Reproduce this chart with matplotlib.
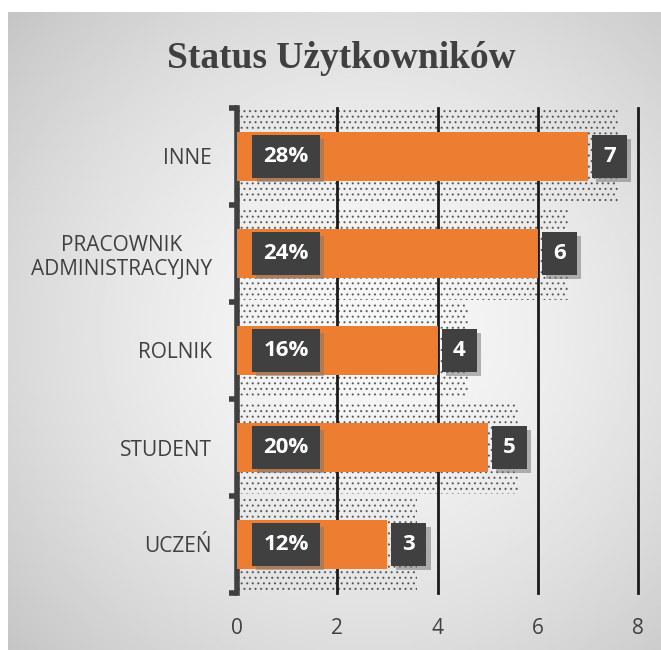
import numpy as np
import matplotlib
matplotlib.use("Agg")
import matplotlib.pyplot as plt
from matplotlib.patches import Rectangle
import matplotlib.patheffects as pe

# data (top to bottom as shown)
categories = ["INNE", "PRACOWNIK\nADMINISTRACYJNY", "ROLNIK", "STUDENT", "UCZEŃ"]
counts = [7, 6, 4, 5, 3]
percents = ["28%", "24%", "16%", "20%", "12%"]

ORANGE = "#ED7D31"
DARK = "#404040"

plt.rcParams["hatch.linewidth"] = 0.8

fig = plt.figure(figsize=(6.61, 6.5), dpi=100)
fig.patch.set_facecolor("white")

# gray radial gradient panel behind everything
bg = fig.add_axes([8 / 661, 0, 653 / 661, 638 / 650], zorder=0)
yy, xx = np.mgrid[0:1:300j, 0:1:300j]
r = np.sqrt((xx - 0.55) ** 2 + (yy - 0.5) ** 2) / 0.75
grad = 0.97 - 0.2 * r ** 1.6
bg.imshow(grad, cmap="gray", vmin=0, vmax=1, extent=[0, 1, 0, 1],
          aspect="auto", origin="lower")
bg.set_xlim(0, 1), bg.set_ylim(0, 1)
bg.axis("off")

ax = fig.add_axes([237 / 661, 1 - 593 / 650, 401 / 661, 485 / 650], zorder=1)
ax.set_facecolor("none")

y = np.arange(len(categories))
ax.set_ylim(len(categories) - 0.5, -0.5)
ax.set_xlim(0, 8)

# dotted "shadow" behind the bars
for yi, c in zip(y, counts):
    ax.add_patch(Rectangle((0, yi - 0.48), c + 0.6, 0.96, facecolor="none",
                           edgecolor="#202020", hatch="...", lw=0, alpha=0.6,
                           zorder=1))

ax.barh(y, counts, height=0.5, color=ORANGE, zorder=3)

# labels in dark boxes with a soft offset shadow
box = dict(boxstyle="square,pad=0.5", facecolor=DARK, edgecolor="none")
for yi, c, p in zip(y, counts, percents):
    for lab, xpos in ((p, 0.98), (str(c), c + 0.43)):
        t = ax.text(xpos, yi, lab, ha="center", va="center", fontsize=16,
                    fontweight="bold", family="Open Sans", color="white",
                    bbox=box, zorder=5)
        t.get_bbox_patch().set_path_effects([
            pe.SimplePatchShadow(offset=(3, -3), shadow_rgbFace="#7a7a7a", alpha=0.55),
            pe.Normal()])

ax.xaxis.grid(True, color="#1a1a1a", lw=2)
for gl in ax.get_xgridlines():
    gl.set_clip_on(False)
ax.set_axisbelow(True)
ax.set_xticks([0, 2, 4, 6, 8])
ax.tick_params(axis="x", length=0, pad=18, labelsize=15, labelcolor=DARK)
for t in ax.get_xticklabels():
    t.set_family("Open Sans")

ax.set_yticks(y)
ax.set_yticklabels(categories, multialignment="center", family="Open Sans",
                   fontsize=15, color=DARK)
ax.tick_params(axis="y", which="major", length=0, pad=18)
ax.set_yticks(np.arange(len(categories) + 1) - 0.5, minor=True)
ax.tick_params(axis="y", which="minor", length=6, width=4, color=DARK)

for s in ("top", "right", "bottom"):
    ax.spines[s].set_visible(False)
ax.spines["left"].set_color(DARK)
ax.spines["left"].set_linewidth(4)

fig.text(341 / 661, 1 - 58 / 650, "Status Użytkowników", ha="center",
         va="center", fontsize=27, fontweight="bold",
         family="Liberation Serif", color=DARK)

fig.savefig("out.png", dpi=100)
